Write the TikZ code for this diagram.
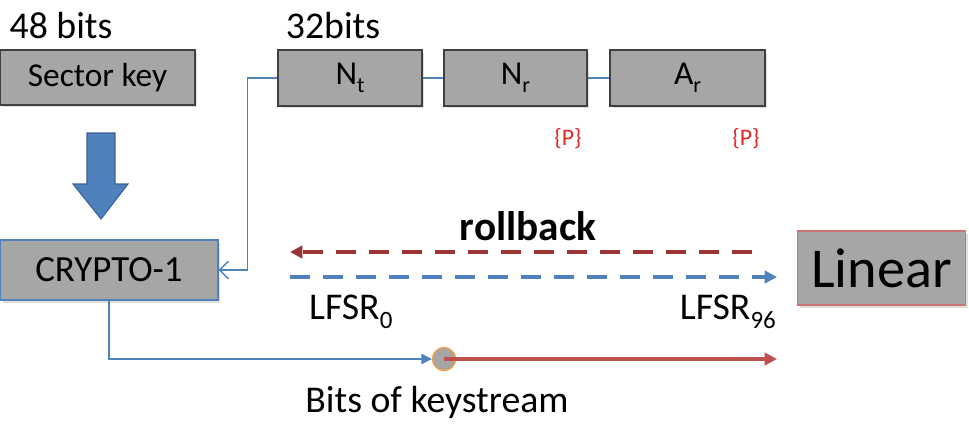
\documentclass[tikz,border=0pt]{standalone}
\usepackage{fontspec}
\setmainfont{Carlito}
\usetikzlibrary{positioning,calc,arrows.meta,shadows}
\definecolor{boxgray}{RGB}{166,166,166}
\definecolor{boxedge}{RGB}{64,64,64}
\definecolor{officeblue}{RGB}{79,129,189}
\definecolor{officebluedark}{RGB}{56,98,150}
\definecolor{dashred}{RGB}{155,52,52}
\definecolor{wirered}{RGB}{192,80,77}
\definecolor{prandom}{RGB}{230,40,40}
\definecolor{dotorange}{RGB}{240,160,70}
\newcommand{\lowsub}[1]{\raisebox{-0.5ex}{\scalebox{0.66}{#1}}}

\tikzset{
  keybox/.style={draw=boxedge,fill=boxgray,line width=0.8pt,inner sep=0pt,
    drop shadow={opacity=0.25,shadow xshift=0.05cm,shadow yshift=-0.05cm},
    font=\fontsize{19}{22}\selectfont},
  bluewire/.style={draw=officeblue,line width=0.8pt},
  lbl/.style={font=\fontsize{21.5}{24}\selectfont}
}

\begin{document}
\begin{tikzpicture}[x=0.02cm,y=-0.02cm]
\useasboundingbox (0,0) rectangle (969,430);
% top labels
\node[lbl] (keybits) at (61,26) {48 bits};
\node[lbl] (noncebits) at (333,26) {32bits};
% input boxes
\node[keybox,minimum width=3.9cm,minimum height=1.1cm] (sector) at (97.5,77.5) {Sector key};
\node[keybox,minimum width=2.88cm,minimum height=1.12cm] (nt) at (350,78) {N\lowsub{t}};
\node[keybox,minimum width=2.86cm,minimum height=1.12cm] (nr) at (515.5,78) {N\lowsub{r}};
\node[keybox,minimum width=3.1cm,minimum height=1.12cm] (ar) at (687.5,78) {A\lowsub{r}};
\draw[bluewire] (nt) -- (nr);
\draw[bluewire] (nr) -- (ar);
\node[text=prandom,font=\fontsize{13.5}{15}\selectfont] (pnr) at (568,139) {\{P\}};
\node[text=prandom,font=\fontsize{13.5}{15}\selectfont] (par) at (746,139) {\{P\}};
% cipher
\node[keybox,draw=officeblue,minimum width=4.36cm,minimum height=1.2cm,
  font=\fontsize{21}{24}\selectfont] (crypto) at (109,270) {CRYPTO-1};
\node[keybox,draw=wirered!80!white,minimum width=3.36cm,minimum height=1.48cm,
  font=\fontsize{32}{36}\selectfont] (linear) at (881.5,268) {Linear};
% block arrow
\filldraw[fill=officeblue,draw=officebluedark,line width=0.6pt]
  (87,133) -- (115,133) -- (115,184) -- (128,184) -- (101,219) -- (73,184) -- (87,184) -- cycle;
% nonce into cipher
\draw[bluewire,-{Straight Barb[length=5pt,width=10pt]}] (nt.west) -- ++(-30,0) |- (crypto.east);
% rollback arrows
\coordinate (rbstart) at (752,252);
\coordinate (rbend) at (290,252);
\coordinate (fwstart) at (290,277);
\coordinate (fwend) at (777,277);
\draw[dashred,line width=2.2pt,dash pattern=on 0.4cm off 0.26cm,-{Triangle[length=7pt,width=7pt]}] (rbstart) -- (rbend);
\draw[officeblue,line width=2.2pt,dash pattern=on 0.4cm off 0.26cm,-{Triangle[length=7pt,width=7pt]}] (fwstart) -- (fwend);
\node[font=\bfseries\fontsize{23.5}{26}\selectfont] (rollback) at (528,226) {rollback};
\node[lbl,anchor=west] (lfsr0) at (303,312) {LFSR\lowsub{0}};
\node[lbl,anchor=east] (lfsr96) at (782,312) {LFSR\lowsub{96}};
% keystream
\node[circle,fill=boxgray,draw=dotorange,line width=0.8pt,minimum size=0.46cm,inner sep=0pt] (dot) at (444,359) {};
\coordinate (keyend) at (777,359);
\draw[bluewire,-{Triangle[length=6pt,width=6pt]}] (crypto.south) |- (dot.west);
\draw[wirered,line width=1.8pt,-{Triangle[length=7pt,width=7pt]}] (dot.center) -- (keyend);
\node[lbl] (keystream) at (437,402) {Bits of keystream};
\end{tikzpicture}
\end{document}
